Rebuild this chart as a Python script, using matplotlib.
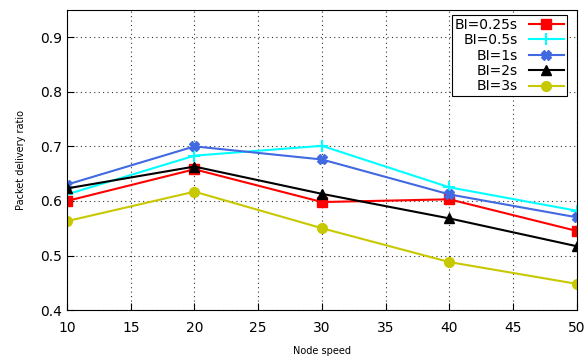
import matplotlib.pyplot as plt

# Node speed values
speed = [10, 20, 30, 40, 50]

# Packet delivery ratio for each beacon interval
pdr_025 = [0.600, 0.658, 0.598, 0.603, 0.545]
pdr_05 = [0.612, 0.683, 0.701, 0.625, 0.582]
pdr_1 = [0.630, 0.700, 0.676, 0.612, 0.570]
pdr_2 = [0.623, 0.663, 0.613, 0.568, 0.517]
pdr_3 = [0.563, 0.617, 0.550, 0.488, 0.448]

labels = ["BI=0.25s", "BI=0.5s", "BI=1s", "BI=2s", "BI=3s"]

fig = plt.figure(figsize=(5.88, 3.56), dpi=100)
ax = fig.add_axes([0.114, 0.129, 0.867, 0.843])

ax.plot(speed, pdr_025, color="#ff0000", marker="s", markersize=7, lw=1.5, label=labels[0])
ax.plot(speed, pdr_05, color="#00ffff", marker="+", markersize=8, mew=1.5, lw=1.5, label=labels[1])
ax.plot(speed, pdr_1, color="#4169e1", marker="X", markersize=7, lw=1.5, label=labels[2])
ax.plot(speed, pdr_2, color="#000000", marker="^", markersize=7, lw=1.5, label=labels[3])
ax.plot(speed, pdr_3, color="#c8c800", marker="o", markersize=7, lw=1.5, label=labels[4])

ax.set_xlim(10, 50)
ax.set_ylim(0.4, 0.95)
ax.set_xticks(range(10, 51, 5))
ax.set_yticks([0.4, 0.5, 0.6, 0.7, 0.8, 0.9])
ax.tick_params(direction="in", labelsize=10, length=5)
ax.tick_params(axis="x", pad=8)
ax.grid(True, linestyle=(0, (1, 3)), color="#333333", lw=0.8)

ax.set_xlabel("Node speed", fontsize=7, labelpad=8)
ax.set_ylabel("Packet delivery ratio", fontsize=7, labelpad=10)

leg = ax.legend(loc="upper right", markerfirst=False, fontsize=10, fancybox=False,
                edgecolor="black", framealpha=1, handlelength=2.5,
                borderpad=0.2, labelspacing=0.1, borderaxespad=0,
                bbox_to_anchor=(0.98, 0.983))
for t in leg.get_texts():
    t.set_ha("right")
leg.get_frame().set_linewidth(0.8)

plt.savefig("out.png", dpi=100)
